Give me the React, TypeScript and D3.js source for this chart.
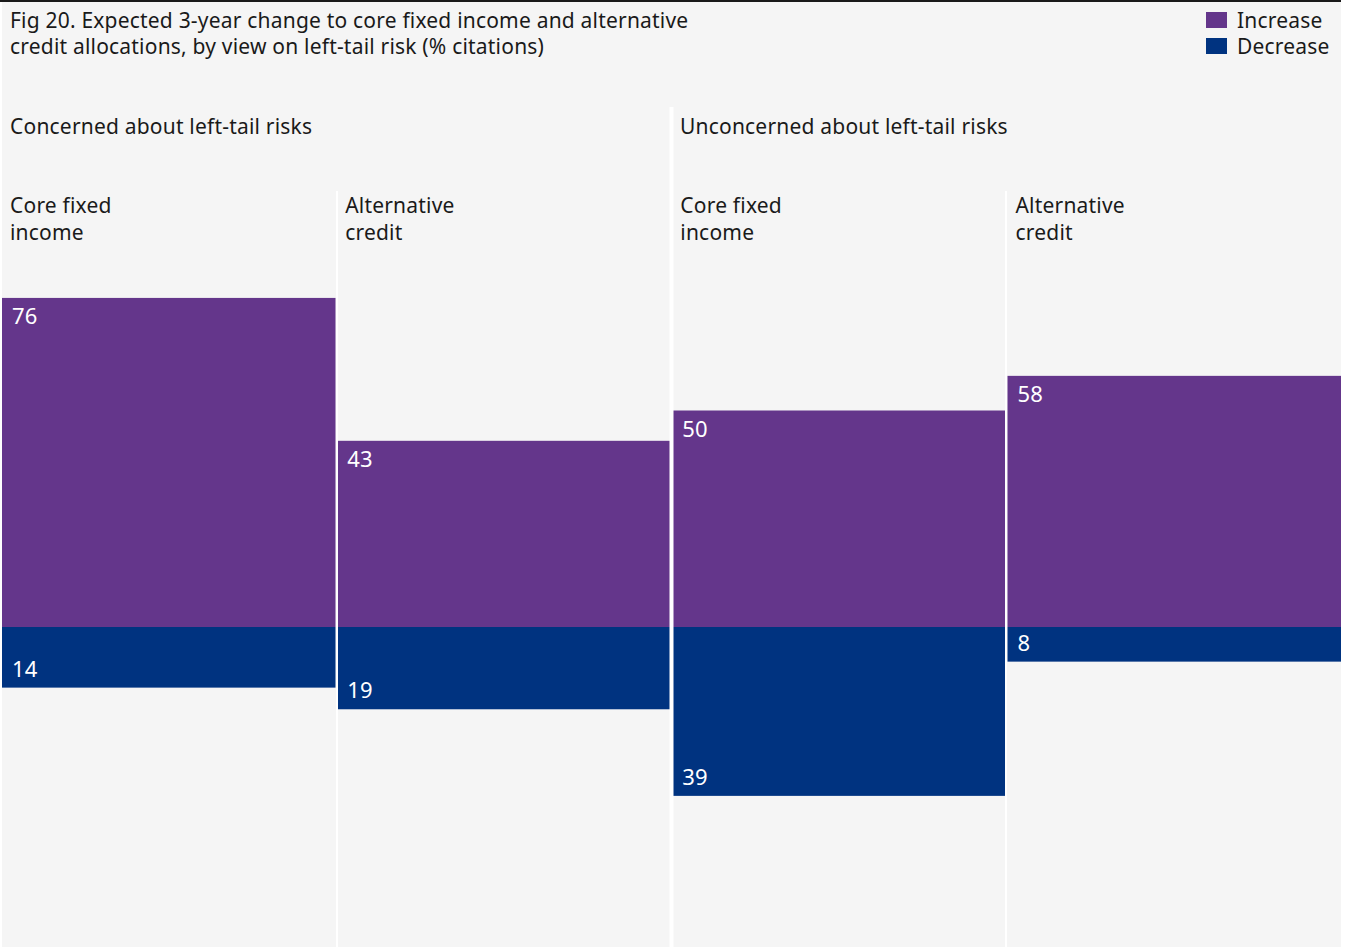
import React from "react";
import * as d3 from "d3";

const groups = ["Concerned about left-tail risks", "Unconcerned about left-tail risks"];
const columns = ["Core fixed\nincome", "Alternative\ncredit", "Core fixed\nincome", "Alternative\ncredit"];
const increase = [76, 43, 50, 58];
const decrease = [14, 19, 39, 8];
const seriesNames = ["Increase", "Decrease"];
const titleLines = [
  "Fig 20. Expected 3-year change to core fixed income and alternative",
  "credit allocations, by view on left-tail risk (% citations)",
];

const W = 1350;
const H = 949;
const PURPLE = "#64368b";
const BLUE = "#003380";
const BG = "#f5f5f5";
const FONT = "'Noto Sans', 'Open Sans', sans-serif";
const FS = 21;
const LS = 0.2;

export default function App() {
  const x = d3
    .scaleBand<number>()
    .domain(d3.range(columns.length))
    .range([2, 1341])
    .paddingInner(0.005);
  const y = d3.scaleLinear().domain([-100, 100]).range([627 + 433, 627 - 433]);
  const colors = [PURPLE, BLUE];

  return (
    <svg
      width={W}
      height={H}
      style={{ position: "absolute", left: 0, top: 0, display: "block" }}
      fontFamily={FONT}
      letterSpacing={LS}
    >
      <rect x={0} y={0} width={W} height={H} fill="#ffffff" />
      <rect x={2} y={0} width={1339} height={947} fill={BG} />
      <rect x={0} y={0} width={1341} height={2} fill="#1a1a1a" />

      {/* title */}
      {titleLines.map((t, i) => (
        <text key={i} x={10} y={28 + i * 26} fontSize={FS} fill="#1a1a1a">
          {t}
        </text>
      ))}

      {/* legend */}
      {seriesNames.map((s, i) => (
        <g key={s}>
          <rect x={1206} y={12 + i * 26} width={21} height={16} fill={colors[i]} />
          <text x={1237} y={28 + i * 26} fontSize={FS} fill="#1a1a1a">
            {s}
          </text>
        </g>
      ))}

      {/* bars */}
      {columns.map((c, i) => {
        const x0 = x(i)!;
        const bw = x.bandwidth();
        const yi = y(increase[i]);
        const yd = y(-decrease[i]);
        return (
          <g key={i}>
            <rect x={x0} y={yi} width={bw} height={y(0) - yi} fill={PURPLE} />
            <rect x={x0} y={y(0)} width={bw} height={yd - y(0)} fill={BLUE} />
            <text x={x0 + 10} y={yi + 26} fontSize={22} fill="#ffffff">
              {increase[i]}
            </text>
            <text x={x0 + 10} y={yd - 11} fontSize={22} fill="#ffffff">
              {decrease[i]}
            </text>
            {c.split("\n").map((l, j) => (
              <text key={j} x={x0 + 8} y={213 + j * 27} fontSize={FS} fill="#1a1a1a">
                {l}
              </text>
            ))}
          </g>
        );
      })}

      {/* separators */}
      <rect x={336} y={191} width={2} height={H} fill="#ffffff" />
      <rect x={669.5} y={107} width={4} height={H} fill="#ffffff" />
      <rect x={1005} y={191} width={2} height={H} fill="#ffffff" />

      {/* group labels */}
      {groups.map((g, i) => (
        <text key={g} x={i === 0 ? 10 : 680} y={134} fontSize={FS} fill="#1a1a1a">
          {g}
        </text>
      ))}
    </svg>
  );
}
